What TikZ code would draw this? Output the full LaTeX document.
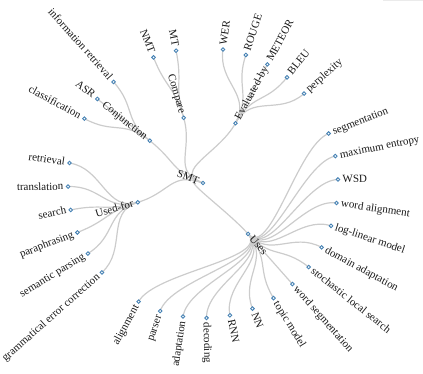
\documentclass[tikz,border=0pt]{standalone}
\usepackage{fontspec}
\setmainfont{Liberation Serif}
\pgfdeclarelayer{bg}
\pgfsetlayers{bg,main}
\definecolor{linkgray}{HTML}{CCCCCC}
\definecolor{dotblue}{HTML}{4682B4}
\definecolor{edgegray}{HTML}{EBEBEB}
\tikzset{
  link/.style={draw=linkgray, line width=1.2pt},
  dot/.style={circle, draw=dotblue, fill=white, line width=0.9pt, inner sep=0pt, minimum size=3.6pt},
  lab/.style={font=\fontsize{11}{13}\selectfont, text=black!90, inner sep=0pt, text height=0.62em, text depth=0pt},
}
% right-side node: name, angle, radius, text
\newcommand\Rnode[4]{%
  \coordinate (#1) at (#2:#3);
  \node[dot] (#1-dot) at (#1) {};
  \pgfmathsetmacro\labr{#3+4.5}
  \node[lab, anchor=west, rotate=#2] (#1-lab) at (#2:\labr) {#4};}
% left-side node: name, angle, radius, text
\newcommand\Lnode[4]{%
  \coordinate (#1) at (#2:#3);
  \node[dot] (#1-dot) at (#1) {};
  \pgfmathsetmacro\labr{#3+4.5}
  \node[lab, anchor=east, rotate=#2+180] (#1-lab) at (#2:\labr) {#4};}
% link: parent, child, parent angle, child angle, mid radius
\newcommand\linkto[5]{%
  \begin{pgfonlayer}{bg}\draw[link] (#1) .. controls (#3:#5) and (#4:#5) .. (#2);\end{pgfonlayer}}
\begin{document}
\begin{tikzpicture}[x=1pt, y=1pt]
\useasboundingbox (-203,-190) rectangle (220,183);
\fill[edgegray] (180,183) rectangle (220,181.6);
% root
\coordinate (smt) at (0,0);
\node[dot] (smt-dot) at (smt) {};
\node[lab, anchor=east, rotate=-20] (smt-lab) at (160:4.5) {SMT};
% relations
\Lnode{conj}{141.5}{68}{Conjunction}
\Lnode{comp}{106.5}{68}{Compare}
\Rnode{eval}{61.5}{68}{Evaluated-by}
\Rnode{uses}{-48.5}{68}{Uses}
\Lnode{usedfor}{196.5}{68}{Used-for}
\linkto{smt}{conj}{160}{141.5}{34}
\linkto{smt}{comp}{160}{106.5}{34}
\linkto{smt}{eval}{160}{61.5}{34}
\linkto{smt}{uses}{160}{-48.5}{34}
\linkto{smt}{usedfor}{160}{196.5}{34}
% Conjunction
\Lnode{classif}{151.5}{135}{classification}
\Lnode{asr}{141.5}{135}{ASR}
\Lnode{inforet}{131.5}{135}{information retrieval}
\linkto{conj}{classif}{141.5}{151.5}{101.5}
\linkto{conj}{asr}{141.5}{141.5}{101.5}
\linkto{conj}{inforet}{141.5}{131.5}{101.5}
% Compare
\Lnode{nmt}{111.5}{135}{NMT}
\Lnode{mt}{101.5}{135}{MT}
\linkto{comp}{nmt}{106.5}{111.5}{101.5}
\linkto{comp}{mt}{106.5}{101.5}{101.5}
% Evaluated-by
\Rnode{wer}{81.5}{135}{WER}
\Rnode{rouge}{71.5}{135}{ROUGE}
\Rnode{meteor}{61.5}{135}{METEOR}
\Rnode{bleu}{51.5}{135}{BLEU}
\Rnode{perp}{41.5}{135}{perplexity}
\linkto{eval}{wer}{61.5}{81.5}{101.5}
\linkto{eval}{rouge}{61.5}{71.5}{101.5}
\linkto{eval}{meteor}{61.5}{61.5}{101.5}
\linkto{eval}{bleu}{61.5}{51.5}{101.5}
\linkto{eval}{perp}{61.5}{41.5}{101.5}
% Uses
\Rnode{seg}{21.5}{135}{segmentation}
\Rnode{maxent}{11.5}{135}{maximum entropy}
\Rnode{wsd}{1.5}{135}{WSD}
\Rnode{walign}{-8.5}{135}{word alignment}
\Rnode{loglin}{-18.5}{135}{log-linear model}
\Rnode{domad}{-28.5}{135}{domain adaptation}
\Rnode{sls}{-38.5}{135}{stochastic local search}
\Rnode{wseg}{-48.5}{135}{word segmentation}
\Rnode{topic}{-58.5}{135}{topic model}
\Rnode{nn}{-68.5}{135}{NN}
\Rnode{rnn}{-78.5}{135}{RNN}
\Rnode{dec}{-88.5}{135}{decoding}
\Lnode{adapt}{-98.5}{135}{adaptation}
\Lnode{parser}{-108.5}{135}{parser}
\Lnode{align}{-118.5}{135}{alignment}
\foreach \n/\a in {seg/21.5, maxent/11.5, wsd/1.5, walign/-8.5, loglin/-18.5, domad/-28.5, sls/-38.5, wseg/-48.5, topic/-58.5, nn/-68.5, rnn/-78.5, dec/-88.5, adapt/-98.5, parser/-108.5, align/-118.5}
  {\linkto{uses}{\n}{-48.5}{\a}{101.5}}
% Used-for
\Lnode{gec}{221.5}{135}{grammatical error correction}
\Lnode{sempar}{211.5}{135}{semantic parsing}
\Lnode{para}{201.5}{135}{paraphrasing}
\Lnode{search}{191.5}{135}{search}
\Lnode{transl}{181.5}{135}{translation}
\Lnode{retr}{171.5}{135}{retrieval}
\foreach \n/\a in {gec/221.5, sempar/211.5, para/201.5, search/191.5, transl/181.5, retr/171.5}
  {\linkto{usedfor}{\n}{196.5}{\a}{101.5}}
\end{tikzpicture}
\end{document}
